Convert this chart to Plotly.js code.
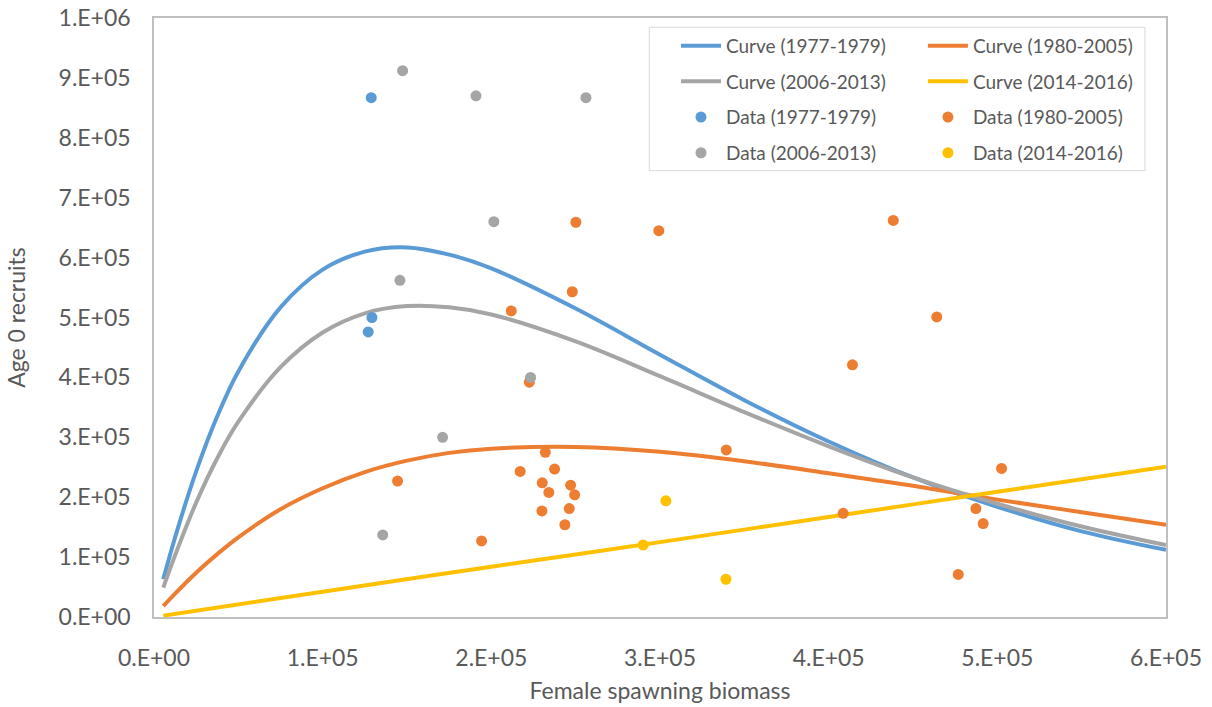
<!DOCTYPE html>
<html>
<head>
<meta charset="utf-8">
<script src="https://cdn.plot.ly/plotly-3.0.1.min.js"></script>
<style>
html,body{margin:0;padding:0;background:#fff;}
#chart{width:1212px;height:707px;}
</style>
</head>
<body>
<div id="chart"></div>
<script>
// ---- data ----
const curveS      = [5500, 12500, 25000, 37500, 50000, 75000, 100000, 125000, 150000, 175000, 200000, 250000, 300000, 350000, 400000, 450000, 500000, 550000, 600000];
const curve1977R  = [63000, 133000, 243000, 335000, 410000, 517000, 580000, 610000, 617000, 605000, 582000, 515000, 438000, 362000, 293000, 233000, 184000, 143000, 112000];
const curve1980R  = [18000, 39000, 74000, 105000, 133000, 180000, 215000, 242000, 261000, 274000, 281000, 284000, 276000, 260000, 240000, 219000, 196000, 175000, 154000];
const curve2006R  = [49000, 103000, 191000, 265000, 326000, 417000, 475000, 507000, 519000, 517000, 505000, 460000, 402000, 342000, 285000, 233000, 189000, 151000, 120000];
const line2014S   = [5500, 100000, 200000, 300000, 400000, 500000, 600000];
const line2014R   = [2300, 42000, 84000, 125000, 167000, 209000, 251000];

const data1977S = [128800, 129200, 127000];
const data1977R = [867000, 500000, 476000];
const data1980S = [250100, 299300, 248000, 211800, 222500, 339300, 438300, 464100, 414100, 502500, 487300, 491600, 408600, 476800, 144400, 194200, 232000, 217100, 237500, 230200, 247000, 234100, 249400, 230000, 246200, 243600];
const data1980R = [659000, 645000, 543000, 511000, 392000, 279000, 662000, 501000, 421000, 248000, 181000, 156000, 173000, 71000, 227000, 127000, 275000, 243000, 247000, 224000, 220000, 208000, 204000, 177000, 181000, 154000];
const data2006S = [147400, 190900, 256100, 201500, 145800, 223300, 171100, 135600];
const data2006R = [912000, 870000, 867000, 660000, 562000, 400000, 300000, 137000];
const data2014S = [303500, 290000, 339100];
const data2014R = [194000, 120000, 63000];

const xTickVals = [0, 100000, 200000, 300000, 400000, 500000, 600000];
const xTickText = ["0.E+00", "1.E+05", "2.E+05", "3.E+05", "4.E+05", "5.E+05", "6.E+05"];
const yTickVals = [0, 100000, 200000, 300000, 400000, 500000, 600000, 700000, 800000, 900000, 1000000];
const yTickText = ["0.E+00", "1.E+05", "2.E+05", "3.E+05", "4.E+05", "5.E+05", "6.E+05", "7.E+05", "8.E+05", "9.E+05", "1.E+06"];

const BLUE = '#5B9BD5', ORANGE = '#ED7D31', GRAY = '#A5A5A5', YELLOW = '#FFC000';
const TXT = '#595959';
const FONT = 'Lato, "Open Sans", sans-serif';

function curve(x, y, name, color, legend) {
  return {x: x, y: y, name: name, type: 'scatter', mode: 'lines',
          line: {color: color, width: 4, shape: 'spline', smoothing: 1},
          legend: legend, legendgroup: name, hoverinfo: 'x+y'};
}
function pts(x, y, name, color, legend) {
  return {x: x, y: y, name: name, type: 'scatter', mode: 'markers',
          marker: {color: color, size: 11}, legend: legend, legendgroup: name};
}

const traces = [
  curve(curveS, curve1977R, 'Curve (1977-1979)', BLUE, 'legend'),
  curve(curveS, curve1980R, 'Curve (1980-2005)', ORANGE, 'legend2'),
  curve(curveS, curve2006R, 'Curve (2006-2013)', GRAY, 'legend'),
  curve(line2014S, line2014R, 'Curve (2014-2016)', YELLOW, 'legend2'),
  pts(data1977S, data1977R, 'Data (1977-1979)', BLUE, 'legend'),
  pts(data1980S, data1980R, 'Data (1980-2005)', ORANGE, 'legend2'),
  pts(data2006S, data2006R, 'Data (2006-2013)', GRAY, 'legend'),
  pts(data2014S, data2014R, 'Data (2014-2016)', YELLOW, 'legend2')
];

const legendCommon = {
  yanchor: 'top', xanchor: 'left', y: 0.9853,
  bgcolor: 'rgba(0,0,0,0)', borderwidth: 0,
  font: {family: FONT, size: 19, color: TXT},
  traceorder: 'grouped', tracegroupgap: 8, itemwidth: 40
};

const layout = {
  width: 1212, height: 707,
  margin: {l: 154, r: 46, t: 18, b: 90},
  paper_bgcolor: '#ffffff', plot_bgcolor: '#ffffff',
  font: {family: FONT, color: TXT},
  showlegend: true,
  xaxis: {
    range: [0, 600000], tickvals: xTickVals, ticktext: xTickText,
    showgrid: false, zeroline: false, showline: true, mirror: true,
    linecolor: '#BFBFBF', linewidth: 1.5, ticks: '',
    ticklabelstandoff: 20,
    tickfont: {family: FONT, size: 23, color: TXT},
    title: {text: 'Female spawning biomass', font: {family: FONT, size: 23, color: TXT}, standoff: 13}
  },
  yaxis: {
    range: [0, 1000000], tickvals: yTickVals, ticktext: yTickText,
    showgrid: false, zeroline: false, showline: true, mirror: true,
    linecolor: '#BFBFBF', linewidth: 1.5, ticks: '',
    ticklabelstandoff: 17,
    tickfont: {family: FONT, size: 23, color: TXT},
    title: {text: 'Age 0 recruits', font: {family: FONT, size: 23, color: TXT}, standoff: 27}
  },
  legend: Object.assign({}, legendCommon, {x: 0.5158}),
  legend2: Object.assign({}, legendCommon, {x: 0.7598}),
  shapes: [{
    type: 'rect', xref: 'paper', yref: 'paper',
    x0: 0.4894, x1: 0.9792, y0: 0.7451, y1: 0.9845,
    line: {color: '#D9D9D9', width: 1}, fillcolor: 'rgba(0,0,0,0)', layer: 'above'
  }]
};

Plotly.newPlot('chart', traces, layout, {displayModeBar: false, responsive: false});
</script>
</body>
</html>
